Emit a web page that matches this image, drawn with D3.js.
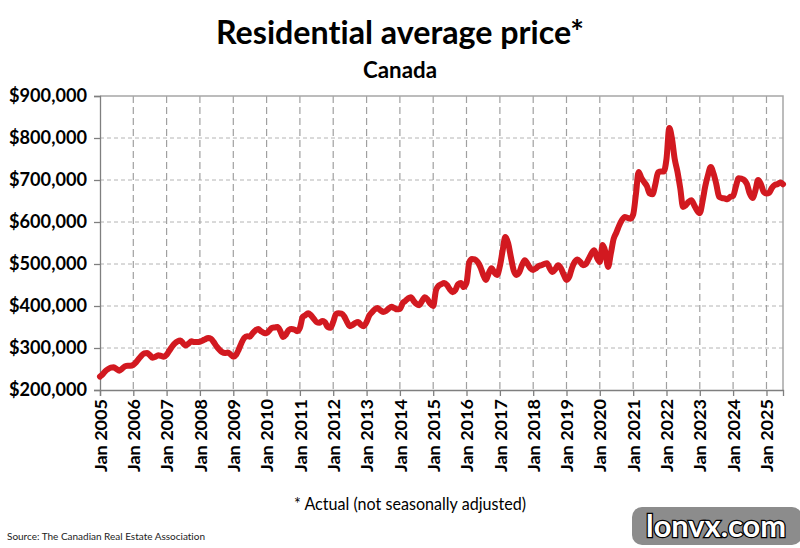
<!DOCTYPE html>
<html>
<head>
<script src="https://cdn.jsdelivr.net/npm/d3@7"></script>
<style>
	body { margin: 0; background: #fff; }
	svg { display: block; }
	text { font-family: Lato, "Open Sans", sans-serif; font-variant-ligatures: none; }
</style>
</head>
<body>
<div id="container"></div>
<script>
	const width = 800, height = 548;
	const plot = {left: 100, right: 783, top: 96, bottom: 390};

	// y axis ticks and x axis (January of each year) labels
	const yTicks = [200000, 300000, 400000, 500000, 600000, 700000, 800000, 900000];
	const yearLabels = ["Jan 2005","Jan 2006","Jan 2007","Jan 2008","Jan 2009","Jan 2010","Jan 2011",
		"Jan 2012","Jan 2013","Jan 2014","Jan 2015","Jan 2016","Jan 2017","Jan 2018","Jan 2019",
		"Jan 2020","Jan 2021","Jan 2022","Jan 2023","Jan 2024","Jan 2025"];

	// monthly average price, Jan 2005 - Jul 2025 (in $000)
	const prices = [
		232, 238, 245, 250, 253, 254, 250, 246, 251, 256, 258, 258, // 2005
		260, 266, 274, 282, 287, 288, 283, 277, 279, 283, 281, 279, // 2006
		284, 294, 303, 311, 316, 318, 311, 306, 311, 316, 314, 314, // 2007
		315, 318, 321, 324, 322, 314, 304, 296, 290, 288, 289, 285, // 2008
		279, 284, 296, 312, 324, 328, 327, 335, 342, 345, 340, 336, // 2009
		335, 342, 348, 349, 350, 340, 326, 332, 343, 345, 344, 340, // 2010
		348, 374, 378, 383, 378, 370, 362, 360, 364, 362, 350, 348, // 2011
		362, 381, 383, 382, 375, 362, 352, 355, 360, 362, 355, 352, // 2012
		362, 378, 385, 392, 395, 390, 386, 388, 394, 398, 395, 392, // 2013
		393, 407, 412, 418, 421, 412, 405, 402, 412, 421, 415, 405, // 2014
		400, 438, 448, 452, 455, 450, 440, 433, 438, 452, 455, 445, // 2015
		455, 505, 512, 511, 505, 493, 475, 462, 478, 490, 480, 474, // 2016
		495, 533, 564, 550, 517, 485, 474, 480, 498, 509, 500, 490, // 2017
		486, 490, 495, 497, 500, 502, 490, 481, 488, 497, 490, 475, // 2018
		462, 470, 490, 505, 511, 505, 497, 500, 512, 525, 533, 515, // 2019
		505, 545, 530, 493, 525, 560, 575, 592, 605, 612, 610, 608, // 2020
		618, 668, 719, 705, 695, 685, 668, 666, 690, 718, 720, 720, // 2021
		750, 824, 800, 750, 720, 680, 636, 640, 648, 652, 640, 628, // 2022
		621, 650, 684, 712, 731, 715, 690, 660, 657, 656, 654, 660, // 2023
		662, 685, 704, 703, 700, 690, 668, 657, 675, 700, 690, 672, // 2024
		668, 670, 681, 688, 690, 694, 690                           // 2025
	];

	const firstMonth = new Date(2005, 0, 1);
	const data = prices.map((p, i) => ({date: d3.timeMonth.offset(firstMonth, i), value: p * 1000}));
	const yearTicks = yearLabels.map((d, i) => new Date(2005 + i, 0, 1));

	const x = d3.scaleTime()
		.domain([firstMonth, data[data.length - 1].date])
		.range([plot.left, plot.right]);
	const y = d3.scaleLinear().domain([200000, 900000]).range([plot.bottom, plot.top]);

	const svg = d3.select("#container").append("svg").attr("width", width).attr("height", height);

	// titles
	svg.append("text").attr("x", 400).attr("y", 44).attr("text-anchor", "middle")
		.attr("font-size", 33).attr("font-weight", "bold").attr("fill", "#000")
		.attr("textLength", 368).attr("lengthAdjust", "spacingAndGlyphs")
		.text("Residential average price*");
	svg.append("text").attr("x", 400).attr("y", 78).attr("text-anchor", "middle")
		.attr("font-size", 22).attr("font-weight", "bold").attr("fill", "#000")
		.attr("textLength", 74).attr("lengthAdjust", "spacingAndGlyphs")
		.text("Canada");

	// grid
	svg.append("g").selectAll("line").data(yTicks.slice(1, -1)).join("line")
		.attr("x1", plot.left).attr("x2", plot.right)
		.attr("y1", d => y(d)).attr("y2", d => y(d))
		.attr("stroke", "#b4b4b4").attr("stroke-width", 1).attr("stroke-dasharray", "4,3");
	svg.append("g").selectAll("line").data(yearTicks.slice(1)).join("line")
		.attr("x1", d => x(d)).attr("x2", d => x(d))
		.attr("y1", plot.top).attr("y2", plot.bottom)
		.attr("stroke", "#a0a0a0").attr("stroke-width", 1.2).attr("stroke-dasharray", "7,4");

	// plot border top / right
	svg.append("path")
		.attr("d", `M${plot.left},${plot.top}H${plot.right}V${plot.bottom}`)
		.attr("fill", "none").attr("stroke", "#a6a6a6").attr("stroke-width", 1.5);

	// axes
	const yAxis = svg.append("g").attr("transform", `translate(${plot.left},0)`)
		.call(d3.axisLeft(y).tickValues(yTicks).tickSize(6).tickFormat(d3.format("$,.0f")));
	yAxis.selectAll("text").attr("font-size", 18).attr("font-weight", "bold").attr("fill", "#000")
		.attr("x", -13).attr("textLength", 78).attr("lengthAdjust", "spacingAndGlyphs");

	const xAxis = svg.append("g").attr("transform", `translate(0,${plot.bottom})`)
		.call(d3.axisBottom(x).tickValues(yearTicks).tickSize(6).tickFormat((d, i) => yearLabels[i]));
	xAxis.selectAll("text").attr("font-size", 17).attr("font-weight", "bold").attr("fill", "#000")
		.attr("transform", "rotate(-90)").attr("x", -9).attr("y", 0).attr("dy", "0.36em")
		.attr("textLength", 73).attr("lengthAdjust", "spacingAndGlyphs")
		.style("text-anchor", "end");

	svg.selectAll(".domain, .tick line").attr("stroke", "#7f7f7f").attr("stroke-width", 1.3);

	// price line
	const line = d3.line().x(d => x(d.date)).y(d => y(d.value)).curve(d3.curveMonotoneX);
	svg.append("path").datum(data)
		.attr("d", line)
		.attr("fill", "none").attr("stroke", "#d21920").attr("stroke-width", 6)
		.attr("stroke-linejoin", "round").attr("stroke-linecap", "round");

	// notes
	svg.append("text").attr("x", 410).attr("y", 510).attr("text-anchor", "middle")
		.attr("font-size", 17).attr("fill", "#000")
		.attr("textLength", 232).attr("lengthAdjust", "spacingAndGlyphs")
		.text("* Actual (not seasonally adjusted)");
	svg.append("text").attr("x", 7).attr("y", 540)
		.attr("font-size", 10).attr("fill", "#222")
		.attr("textLength", 198).attr("lengthAdjust", "spacingAndGlyphs")
		.text("Source: The Canadian Real Estate Association");

	// watermark
	svg.append("rect").attr("x", 632).attr("y", 507).attr("width", 170).attr("height", 38)
		.attr("rx", 10).attr("fill", "#8c8c8c");
	svg.append("text").attr("x", 716).attr("y", 537).attr("text-anchor", "middle")
		.attr("font-size", 30).attr("font-weight", "bold").attr("fill", "#fff")
		.attr("stroke", "#000").attr("stroke-width", 2.5).attr("paint-order", "stroke")
		.attr("textLength", 140).attr("lengthAdjust", "spacingAndGlyphs")
		.text("lonvx.com");
</script>
</body>
</html>
